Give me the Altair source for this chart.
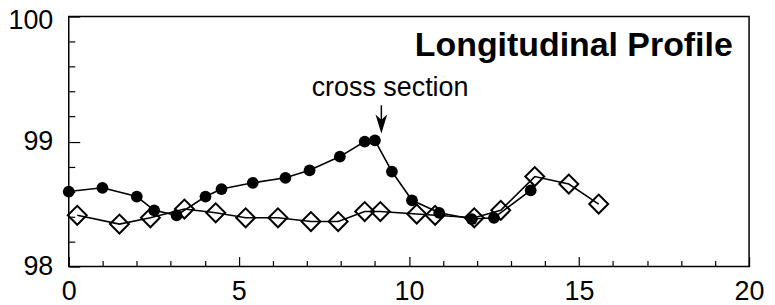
import altair as alt
import pandas as pd

# Filled-circle series
circle_x = [0.0, 0.99, 2.0, 2.51, 3.17, 4.02, 4.49, 5.41, 6.37, 7.08, 7.97, 8.70, 9.00, 9.50, 10.09, 10.89, 11.85, 12.50, 13.58]
circle_y = [98.60, 98.63, 98.56, 98.45, 98.41, 98.56, 98.62, 98.67, 98.71, 98.77, 98.88, 99.00, 99.01, 98.76, 98.53, 98.43, 98.38, 98.39, 98.61]

# Open-diamond series
diamond_x = [0.25, 1.49, 2.40, 3.40, 4.32, 5.20, 6.15, 7.12, 7.92, 8.70, 9.16, 10.23, 10.77, 11.92, 12.70, 13.70, 14.70, 15.58]
diamond_y = [98.41, 98.34, 98.39, 98.46, 98.43, 98.39, 98.39, 98.36, 98.36, 98.44, 98.44, 98.42, 98.41, 98.39, 98.45, 98.72, 98.66, 98.50]

# Axis ticks / labels
x_label_values = [0, 5, 10, 15, 20]
y_label_values = [98, 99, 100]
x_tick_values = list(range(0, 21))
y_tick_values = [98.0, 98.2, 98.4, 98.6, 98.8, 99.0, 99.2, 99.4, 99.6, 99.8, 100.0]

# Annotations
title_text = ["Longitudinal Profile"]
title_x = [19.52]
title_y = [99.685]
note_text = ["cross section"]
note_x = [7.14]
note_y = [99.365]
arrow_x = [9.19]
arrow_top = [99.29]
arrow_head_y = [99.14]

W, H = 683, 251
FONT = "Liberation Sans"

circles = pd.DataFrame({"x": circle_x, "y": circle_y})
diamonds = pd.DataFrame({"x": diamond_x, "y": diamond_y})

xs = alt.Scale(domain=[0, 20], nice=False, zero=False)
ys = alt.Scale(domain=[98, 100], nice=False, zero=False)

label_x_axis = alt.Axis(orient="bottom", values=x_label_values, ticks=False, domain=False, grid=False,
                        labelFontSize=27, labelFont=FONT, labelColor="black", labelPadding=12, title=None,
                        labelFlush=False, labelOverlap=False, format=".0f")
label_y_axis = alt.Axis(orient="left", values=y_label_values, ticks=False, domain=False, grid=False,
                        labelFontSize=27, labelFont=FONT, labelColor="black", labelPadding=16, title=None,
                        labelFlush=False, labelOverlap=False, format=".0f", tickCount=3,
                        labelOffset={"condition": {"test": "datum.value >= 100", "value": 4}, "value": 0})

circ_line = alt.Chart(circles).mark_line(color="black", strokeWidth=1.6).encode(
    x=alt.X("x:Q", scale=xs, axis=label_x_axis),
    y=alt.Y("y:Q", scale=ys, axis=label_y_axis),
)
circ_pts = alt.Chart(circles).mark_point(shape="circle", filled=True, color="black", size=140, opacity=1).encode(
    x=alt.X("x:Q", scale=xs, axis=None),
    y=alt.Y("y:Q", scale=ys, axis=None),
)
dia_line = alt.Chart(diamonds).mark_line(color="black", strokeWidth=1.6).encode(
    x=alt.X("x:Q", scale=xs, axis=None),
    y=alt.Y("y:Q", scale=ys, axis=None),
)
dia_pts = alt.Chart(diamonds).mark_point(shape="diamond", filled=False, color="black", size=360,
                                         strokeWidth=2, opacity=1).encode(
    x=alt.X("x:Q", scale=xs, axis=None),
    y=alt.Y("y:Q", scale=ys, axis=None),
)

title_df = pd.DataFrame({"x": title_x, "y": title_y, "t": title_text})
title_mark = alt.Chart(title_df).mark_text(font=FONT, fontSize=34, fontWeight="bold", align="right",
                                           baseline="alphabetic", color="black").encode(
    x=alt.X("x:Q", scale=xs, axis=None), y=alt.Y("y:Q", scale=ys, axis=None), text="t:N")

note_df = pd.DataFrame({"x": note_x, "y": note_y, "t": note_text})
note_mark = alt.Chart(note_df).mark_text(font=FONT, fontSize=27, align="left",
                                         baseline="alphabetic", color="black").encode(
    x=alt.X("x:Q", scale=xs, axis=None), y=alt.Y("y:Q", scale=ys, axis=None), text="t:N")

arrow_df = pd.DataFrame({"x": arrow_x, "y": arrow_top, "y2": arrow_head_y})
arrow_shaft = alt.Chart(arrow_df).mark_rule(color="black", strokeWidth=1.5).encode(
    x=alt.X("x:Q", scale=xs, axis=None), y=alt.Y("y:Q", scale=ys, axis=None), y2="y2:Q")
arrow_head = alt.Chart(arrow_df).mark_point(shape="M0,1L-0.62,-1L0,-0.45L0.62,-1Z", filled=True,
                                            color="black", size=360, opacity=1).encode(
    x=alt.X("x:Q", scale=xs, axis=None), y=alt.Y("y2:Q", scale=ys, axis=None))

# Inward tick marks (axes moved onto the opposite edge so ticks point inside)
tick_x_axis = alt.Axis(orient="top", offset=-H, values=x_tick_values, labels=False, domain=False, grid=False,
                       tickColor="black", tickWidth=1.2,
                       tickSize={"condition": {"test": "datum.value % 5 === 0", "value": 10}, "value": 6},
                       title=None)
tick_y_axis = alt.Axis(orient="right", offset=-W, values=y_tick_values, labels=False, domain=False, grid=False,
                       tickColor="black", tickWidth=1.2,
                       tickSize={"condition": {"test": "abs(datum.value - round(datum.value)) < 0.01", "value": 11}, "value": 6},
                       title=None)
tick_layer = alt.Chart(circles).mark_point(opacity=0).encode(
    x=alt.X("x:Q", scale=xs, axis=tick_x_axis),
    y=alt.Y("y:Q", scale=ys, axis=tick_y_axis),
)

chart = alt.layer(
    tick_layer, dia_line, circ_line, dia_pts, circ_pts, title_mark, note_mark, arrow_shaft, arrow_head
).resolve_axis(x="independent", y="independent").properties(
    width=W, height=H,
    autosize=alt.AutoSizeParams(type="none"),
    padding={"left": 61, "top": 8, "right": 18, "bottom": 38},
).configure_view(stroke="black", strokeWidth=1.5)

chart.save("out.html", embed_options={"renderer": "svg", "actions": False})
